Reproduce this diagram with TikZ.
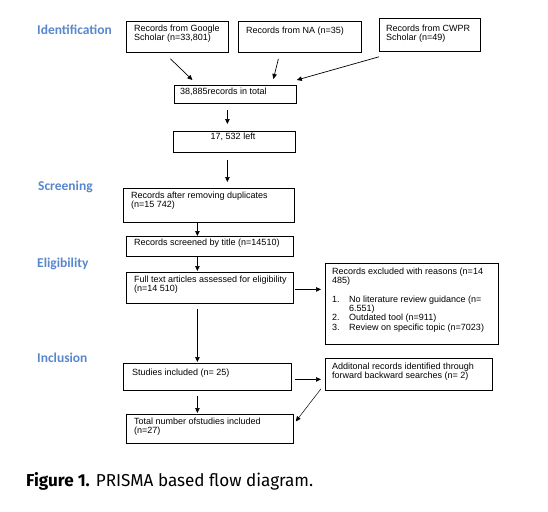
\documentclass[tikz,border=0pt]{standalone}
\usepackage{fontspec}
\setmainfont{Liberation Sans}
\newfontfamily\stagefont{Carlito}
\newfontfamily\capfont{Fira Sans}
\usetikzlibrary{arrows.meta,calc}
\definecolor{stageblue}{RGB}{88,135,205}
\tikzset{
  box/.style={draw, line width=0.8pt, inner sep=0pt, anchor=north west},
  txt/.style={inner sep=0pt, anchor=north west, align=left, font=\fontsize{9}{9.6}\selectfont},
  stage/.style={inner sep=0pt, anchor=west, text=stageblue, font=\stagefont\bfseries\fontsize{13.5}{14}\selectfont},
  arr/.style={line width=0.7pt, -{Triangle[length=5pt,width=4.5pt]}},
}
\begin{document}
\begin{tikzpicture}[x=1pt,y=-1pt]
\useasboundingbox (0,0) rectangle (548,511);
% stage labels
\node[stage] (sid) at (37,30) {Identification};
\node[stage] (ssc) at (38,187) {Screening};
\node[stage] (sel) at (37,264) {Eligibility};
\node[stage] (sin) at (37,358) {Inclusion};
% boxes
\node[box, minimum width=102pt, minimum height=31pt] (g) at (126,21) {};
\node[box, minimum width=123pt, minimum height=31pt] (na) at (238,21) {};
\node[box, minimum width=101pt, minimum height=33pt] (cw) at (379,18) {};
\node[box, minimum width=122pt, minimum height=18pt] (tot) at (174,85) {};
\node[box, minimum width=122pt, minimum height=21pt] (left) at (173,131) {};
\node[box, minimum width=171pt, minimum height=34pt] (dup) at (123,188) {};
\node[box, minimum width=167pt, minimum height=20pt] (title) at (126,236) {};
\node[box, minimum width=167pt, minimum height=31pt] (full) at (126,272) {};
\node[box, minimum width=173pt, minimum height=81pt] (excl) at (325,263) {};
\node[box, minimum width=168pt, minimum height=27pt] (stud) at (123,363) {};
\node[box, minimum width=167pt, minimum height=32pt] (add) at (325,358) {};
\node[box, minimum width=167pt, minimum height=29pt] (final) at (126,414) {};
% texts
\node[txt] (tg) at (134,24.5) {Records from Google\\Scholar (n=33,801)};
\node[txt] (tna) at (246,26.5) {Records from NA (n=35)};
\node[txt] (tcw) at (386,24.5) {Records from CWPR\\Scholar (n=49)};
\node[txt] (ttot) at (180,87.5) {38,885records in total};
\node[txt, anchor=center] (tleft) at (233,137) {17, 532 left};
\node[txt] (tdup) at (131,191.5) {Records after removing duplicates\\(n=15 742)};
\node[txt] (ttitle) at (134,238.5) {Records screened by title (n=14510)};
\node[txt] (tfull) at (134,275.5) {Full text articles assessed for eligibility\\(n=14 510)};
\node[txt, font=\fontsize{9}{9.3}\selectfont] (texcl) at (332,267.5) {Records excluded with reasons (n=14\\485)\\[9.3pt]
\makebox[17pt][l]{1.}No literature review guidance (n=\\
\makebox[17pt][l]{}6.551)\\
\makebox[17pt][l]{2.}Outdated tool (n=911)\\
\makebox[17pt][l]{3.}Review on specific topic (n=7023)};
\node[txt] (tstud) at (132,368.5) {Studies included (n= 25)};
\node[txt] (tadd) at (332,362.5) {Additonal records identified through\\forward backward searches (n= 2)};
\node[txt] (tfinal) at (134,417.5) {Total number ofstudies included\\(n=27)};
% arrows
\draw[arr] ($(g.south)+(-7,6)$) -- ($(tot.north)+(-43,-5)$);
\draw[arr] ($(na.south)+(-21.5,6)$) -- ($(tot.north)+(38,-6)$);
\draw[arr] ($(cw.south west)+(0,5)$) -- ($(tot.north east)+(0,-5)$);
\draw[arr] ($(tot.south)+(-8,6)$) -- ($(left.north)+(-7,-7)$);
\draw[arr] ($(left.south)+(-7,7)$) -- ($(dup.north)+(18.5,-6)$);
\draw[arr] ($(dup.south)+(-11.5,0)$) -- ($(title.north)+(-12.5,0)$);
\draw[arr] ($(title.south)+(-12.5,0)$) -- ($(full.north)+(-12.5,-1)$);
\draw[arr] ($(full.east)+(1,1.5)$) -- ($(excl.west)+(-4,-14.5)$);
\draw[arr] ($(full.south)+(-12.5,5)$) -- ($(stud.north)+(-10,-1)$);
\draw[arr] ($(stud.east)+(3,2.5)$) -- ($(add.west)+(-4,5)$);
\draw[arr] ($(stud.south)+(-10,5)$) -- ($(final.north)+(-12.5,-1)$);
\draw[arr, line width=0.5pt] ($(add.south west)+(-4,-2)$) -- ($(final.east)+(2,-7.5)$);
% caption
\node[inner sep=0pt, anchor=base west] (cap) at (26,486) {\resizebox{287pt}{14pt}{\capfont\textbf{Figure 1.} PRISMA based flow diagram.}};
\end{tikzpicture}
\end{document}
